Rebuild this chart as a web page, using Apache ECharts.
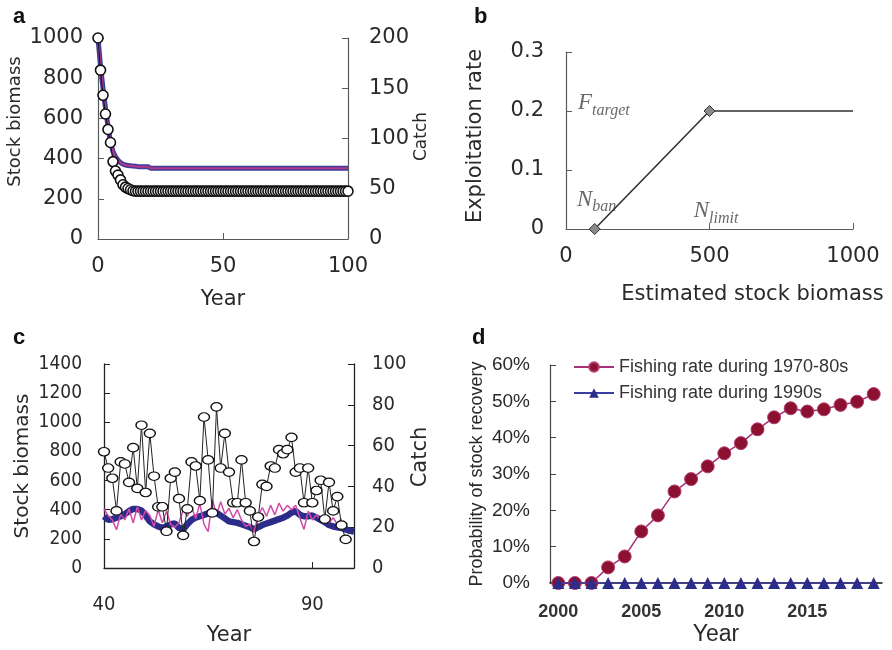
<!DOCTYPE html>
<html>
<head>
<meta charset="utf-8">
<script src="https://cdn.jsdelivr.net/npm/echarts@6/dist/echarts.min.js"></script>
<style>
  html, body { margin: 0; padding: 0; background: #fff; }
  #chart { width: 892px; height: 650px; }
</style>
</head>
<body>
<div id="chart"></div>
<script>
// panel a: simulated stock under the harvest control rule
const aLineYears = [0, 1, 2, 3, 4, 5, 6, 7, 8, 9, 10, 11, 12, 13, 14, 15, 16, 20, 21, 100]
const aBiomass = [1000, 860, 750, 650, 560, 480, 435, 410, 392, 380, 372, 368, 366, 364, 363, 362, 360, 360, 352, 352]
const aCatch = [
  200, 168, 143, 124.4, 109, 96, 77, 67.6, 63.6, 58.8, 54, 51.6, 50.2, 49, 48,
  47.6, 47.6, 47.6, 47.6, 47.6, 47.6, 47.6, 47.6, 47.6, 47.6, 47.6, 47.6, 47.6, 47.6, 47.6,
  47.6, 47.6, 47.6, 47.6, 47.6, 47.6, 47.6, 47.6, 47.6, 47.6, 47.6, 47.6, 47.6, 47.6, 47.6,
  47.6, 47.6, 47.6, 47.6, 47.6, 47.6, 47.6, 47.6, 47.6, 47.6, 47.6, 47.6, 47.6, 47.6, 47.6,
  47.6, 47.6, 47.6, 47.6, 47.6, 47.6, 47.6, 47.6, 47.6, 47.6, 47.6, 47.6, 47.6, 47.6, 47.6,
  47.6, 47.6, 47.6, 47.6, 47.6, 47.6, 47.6, 47.6, 47.6, 47.6, 47.6, 47.6, 47.6, 47.6, 47.6,
  47.6, 47.6, 47.6, 47.6, 47.6, 47.6, 47.6, 47.6, 47.6, 47.6, 47.6
]

// panel b: harvest control rule
const hcrBiomass = [100, 500, 1000]
const hcrRate = [0, 0.2, 0.2]
const hcrNotes = [
  { x: 42, y: 0.213, big: 'F', sub: 'target' },
  { x: 38, y: 0.05, big: 'N', sub: 'ban' },
  { x: 445, y: 0.03, big: 'N', sub: 'limit' }
]

// panel c: stochastic run, years 40-100
const cStartYear = 40
const cTrueBiomass = [
  355, 330, 335, 345, 355, 370, 390, 405, 405, 395, 360, 320, 300, 285, 275, 285, 300, 305, 275, 265,
  300, 330, 345, 355, 365, 375, 385, 380, 360, 340, 320, 315, 310, 300, 290, 280, 265, 280, 295, 305,
  315, 325, 335, 345, 360, 380, 390, 365, 355, 355, 360, 345, 330, 315, 295, 285, 280, 275, 265, 255, 250
]
const cEstBiomass = [
  405, 360, 330, 262, 370, 330, 405, 310, 420, 330, 395, 360, 285, 400, 310, 390, 300, 280, 310, 400,
  355, 420, 340, 440, 300, 250, 470, 365, 455, 370, 410, 345, 400, 330, 285, 300, 245, 360, 415, 355,
  430, 365, 445, 390, 430, 400, 430, 345, 265, 390, 330, 365, 330, 355, 310, 345, 300, 340
]
const cCatch = [
  57, 49, 44, 28, 52, 51, 42, 59, 39, 70, 37, 66, 45, 30, 30, 18, 44, 47, 34, 16,
  29, 52, 50, 33, 74, 53, 27, 79, 49, 66, 47, 32, 32, 53, 32, 28, 13, 25, 41, 40,
  50, 49, 58, 56, 58, 64, 47, 49, 32, 49, 32, 38, 43, 24, 42, 28, 35, 21, 14
]

// panel d: probability of recovery
const dYears = ['2000', '2001', '2002', '2003', '2004', '2005', '2006', '2007', '2008', '2009',
  '2010', '2011', '2012', '2013', '2014', '2015', '2016', '2017', '2018', '2019']
const dRate7080 = [0, 0, 0, 4.3, 7.3, 14.2, 18.6, 25.2, 28.6, 32.1, 35.7, 38.5, 42.3, 45.6, 48.1, 47.2, 47.8, 49, 49.9, 52]
const dRate1990 = [0, 0, 0, 0, 0, 0, 0, 0, 0, 0, 0, 0, 0, 0, 0, 0, 0, 0, 0, 0]

const SANS = 'Liberation Sans'
const WIDE = 'DejaVu Sans'
const NARROW = 'DejaVu Sans Condensed'
const GRAY = '#5a5a5a'
const TXT = '#2a2a2a'

function pairs(xs, ys) {
  return ys.map((y, i) => [xs[i], y])
}
function yearPairs(start, ys) {
  return ys.map((y, i) => [start + i, y])
}
function plain(v) {
  return String(v)
}

function valueAxis(extra) {
  const base = {
    type: 'value',
    splitLine: { show: false },
    axisLine: { show: true, lineStyle: { color: GRAY, width: 1.2 } },
    axisTick: { show: true, inside: true, length: 6, lineStyle: { color: GRAY } },
    nameLocation: 'middle'
  }
  return Object.assign(base, extra)
}
function lab(family, size, margin, more) {
  return Object.assign({ color: TXT, fontFamily: family, fontSize: size, margin: margin, formatter: plain }, more || {})
}
function nameStyle(family, size, more) {
  return Object.assign({ color: TXT, fontFamily: family, fontSize: size }, more || {})
}

const chart = echarts.init(document.getElementById('chart'), null, { renderer: 'canvas' })

const panelTitle = { fontFamily: SANS, fontSize: 22, fontWeight: 'bold', color: '#111' }

const option = {
  animation: false,
  backgroundColor: '#fff',
  textStyle: { fontFamily: SANS },
  title: [
    { text: 'a', left: 8, top: 1, textStyle: panelTitle },
    { text: 'b', left: 469, top: 1, textStyle: panelTitle },
    { text: 'c', left: 8, top: 322, textStyle: panelTitle },
    { text: 'd', left: 467, top: 322, textStyle: panelTitle }
  ],
  legend: {
    left: 568,
    top: 353,
    orient: 'vertical',
    itemWidth: 40,
    itemHeight: 12,
    itemGap: 8,
    textStyle: { fontFamily: SANS, fontSize: 18, color: '#333' },
    data: ['Fishing rate during 1970-80s', 'Fishing rate during 1990s']
  },
  grid: [
    { left: 98, top: 38, width: 250, height: 201 },
    { left: 566, top: 52, width: 287, height: 177 },
    { left: 104, top: 364, width: 250, height: 204 },
    { left: 550, top: 365, width: 332, height: 218 }
  ],
  xAxis: [
    valueAxis({
      gridIndex: 0, min: 0, max: 100, interval: 50,
      name: 'Year', nameGap: 50, nameTextStyle: nameStyle(WIDE, 21),
      axisLabel: lab(WIDE, 21, 17)
    }),
    valueAxis({
      gridIndex: 1, min: 0, max: 1000, interval: 500,
      name: 'Estimated stock biomass', nameGap: 55,
      nameTextStyle: nameStyle(WIDE, 21, { padding: [0, 0, 0, 86] }),
      axisLabel: lab(WIDE, 21, 17)
    }),
    valueAxis({
      gridIndex: 2, min: 40, max: 100, interval: 50,
      axisLine: { show: true, lineStyle: { color: '#222', width: 1.3 } },
      axisTick: { show: true, inside: true, length: 6, lineStyle: { color: '#222' } },
      name: 'Year', nameGap: 57, nameTextStyle: nameStyle(WIDE, 21),
      axisLabel: lab(NARROW, 20, 27, { showMaxLabel: false })
    }),
    {
      type: 'category',
      gridIndex: 3,
      data: dYears,
      boundaryGap: true,
      axisLine: { show: true, lineStyle: { color: '#111', width: 1.5 } },
      axisTick: { show: false },
      axisLabel: { interval: 4, color: '#333', fontFamily: SANS, fontSize: 18, fontWeight: 'bold', margin: 20 },
      name: 'Year',
      nameLocation: 'middle',
      nameGap: 40,
      nameTextStyle: nameStyle(SANS, 23)
    }
  ],
  yAxis: [
    valueAxis({
      gridIndex: 0, min: 0, max: 1000, interval: 200,
      name: 'Stock biomass', nameGap: 74, nameTextStyle: nameStyle(WIDE, 18, { padding: [0, 0, 0, 34] }),
      axisLabel: lab(WIDE, 21, 15)
    }),
    valueAxis({
      gridIndex: 0, position: 'right', min: 0, max: 200, interval: 50,
      name: 'Catch', nameGap: 62, nameRotate: 90, nameTextStyle: nameStyle(WIDE, 17, { padding: [0, 0, 0, 4] }),
      axisLabel: lab(WIDE, 21, 21)
    }),
    valueAxis({
      gridIndex: 1, min: 0, max: 0.3, interval: 0.1,
      name: 'Exploitation rate', nameGap: 80, nameTextStyle: nameStyle(WIDE, 21, { padding: [0, 0, 0, 9] }),
      axisLabel: lab(WIDE, 21, 22)
    }),
    valueAxis({
      gridIndex: 2, min: 0, max: 1400, interval: 200,
      axisLine: { show: true, lineStyle: { color: '#222', width: 1.3 } },
      axisTick: { show: true, inside: true, length: 6, lineStyle: { color: '#222' } },
      name: 'Stock biomass', nameGap: 71, nameTextStyle: nameStyle(WIDE, 20),
      axisLabel: lab(NARROW, 19, 22)
    }),
    valueAxis({
      gridIndex: 2, position: 'right', min: 0, max: 100, interval: 20,
      axisLine: { show: true, lineStyle: { color: '#222', width: 1.3 } },
      axisTick: { show: true, inside: true, length: 6, lineStyle: { color: '#222' } },
      name: 'Catch', nameGap: 53, nameRotate: 90, nameTextStyle: nameStyle(WIDE, 21, { padding: [0, 0, 0, 18] }),
      axisLabel: lab(NARROW, 20, 18)
    }),
    valueAxis({
      gridIndex: 3, min: 0, max: 60, interval: 10,
      axisLine: { show: true, lineStyle: { color: '#444', width: 1.2 } },
      axisTick: { show: true, inside: true, length: 6, lineStyle: { color: '#444' } },
      name: 'Probability of stock recovery', nameGap: 64,
      nameTextStyle: nameStyle(SANS, 18),
      axisLabel: { color: TXT, fontFamily: SANS, fontSize: 19, margin: 20, formatter: '{value}%' }
    })
  ],
  series: [
    // a
    {
      type: 'line', xAxisIndex: 0, yAxisIndex: 0, data: pairs(aLineYears, aBiomass),
      symbol: 'none', lineStyle: { color: '#3d3d9c', width: 5 }, z: 2
    },
    {
      type: 'line', xAxisIndex: 0, yAxisIndex: 0, data: pairs(aLineYears, aBiomass),
      symbol: 'none', lineStyle: { color: '#b3378a', width: 2 }, z: 3
    },
    {
      type: 'line', xAxisIndex: 0, yAxisIndex: 1, data: yearPairs(0, aCatch),
      symbol: 'circle', symbolSize: 10, showAllSymbol: true,
      itemStyle: { color: '#fff', borderColor: '#111', borderWidth: 1.6 },
      lineStyle: { color: '#111', width: 1 }, z: 4
    },
    // b
    {
      type: 'line', xAxisIndex: 1, yAxisIndex: 2,
      data: hcrBiomass.map((x, i) => ({
        value: [x, hcrRate[i]],
        symbol: i < 2 ? 'diamond' : 'none'
      })),
      symbolSize: 11,
      itemStyle: { color: '#8a8a8a', borderColor: '#333', borderWidth: 1 },
      lineStyle: { color: '#333', width: 1.6 }
    },
    {
      type: 'scatter', xAxisIndex: 1, yAxisIndex: 2,
      data: hcrNotes.map(n => ({ value: [n.x, n.y], name: n.big + '|' + n.sub })),
      symbolSize: 0,
      silent: true,
      label: {
        show: true,
        position: 'right',
        distance: 0,
        formatter: p => {
          const parts = p.name.split('|')
          return '{big|' + parts[0] + '}{sub|' + parts[1] + '}'
        },
        rich: {
          big: { fontFamily: 'Liberation Serif', fontStyle: 'italic', fontSize: 23, color: '#444' },
          sub: { fontFamily: 'Liberation Serif', fontStyle: 'italic', fontSize: 16, color: '#444', padding: [15, 0, 0, 0] }
        }
      }
    },
    // c
    {
      type: 'line', xAxisIndex: 2, yAxisIndex: 3, data: yearPairs(cStartYear, cTrueBiomass),
      symbol: 'none', lineStyle: { color: '#2c2c8a', width: 6.5 }, z: 2
    },
    {
      type: 'line', xAxisIndex: 2, yAxisIndex: 3, data: yearPairs(cStartYear, cEstBiomass),
      symbol: 'none', lineStyle: { color: '#d24aa9', width: 1.5 }, z: 3
    },
    {
      type: 'line', xAxisIndex: 2, yAxisIndex: 4, data: yearPairs(cStartYear, cCatch),
      symbol: 'circle', symbolSize: [11, 8.5], showAllSymbol: true,
      itemStyle: { color: '#fff', borderColor: '#111', borderWidth: 1.3 },
      lineStyle: { color: '#222', width: 1 }, z: 4
    },
    // d
    {
      name: 'Fishing rate during 1970-80s',
      type: 'line', xAxisIndex: 3, yAxisIndex: 5, data: dRate7080,
      symbol: 'circle', symbolSize: 13, showAllSymbol: true,
      itemStyle: { color: '#8c1030', borderColor: '#b04070', borderWidth: 1 },
      lineStyle: { color: '#a8307a', width: 1.5 }, z: 3
    },
    {
      name: 'Fishing rate during 1990s',
      type: 'line', xAxisIndex: 3, yAxisIndex: 5, data: dRate1990,
      symbol: 'triangle', symbolSize: 12, showAllSymbol: true,
      itemStyle: { color: '#2c2c8a' },
      lineStyle: { color: '#3c3ca6', width: 1.5 }, z: 4
    }
  ]
}

chart.setOption(option)
</script>
</body>
</html>
